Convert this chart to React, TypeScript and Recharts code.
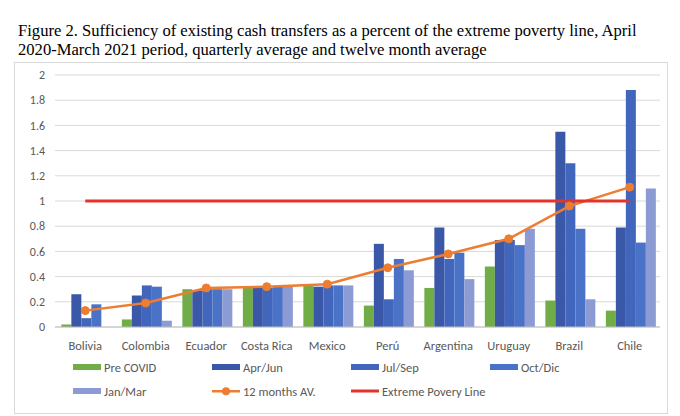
import React from 'react';
import { ComposedChart, Bar, Line, XAxis, YAxis, CartesianGrid, Legend } from 'recharts';

const countries = ['Bolivia', 'Colombia', 'Ecuador', 'Costa Rica', 'Mexico', 'Perú', 'Argentina', 'Uruguay', 'Brazil', 'Chile'];
const preCovid = [0.02, 0.06, 0.30, 0.31, 0.33, 0.17, 0.31, 0.48, 0.21, 0.13];
const aprJun = [0.26, 0.25, 0.29, 0.31, 0.32, 0.66, 0.79, 0.69, 1.55, 0.79];
const julSep = [0.07, 0.33, 0.30, 0.31, 0.33, 0.22, 0.54, 0.69, 1.30, 1.88];
const octDic = [0.18, 0.32, 0.30, 0.32, 0.33, 0.54, 0.59, 0.65, 0.78, 0.67];
const janMar = [0, 0.05, 0.30, 0.32, 0.33, 0.45, 0.38, 0.78, 0.22, 1.10];
const avg12 = [0.13, 0.19, 0.31, 0.32, 0.34, 0.47, 0.58, 0.70, 0.96, 1.11];
const povertyLine = [1, 1, 1, 1, 1, 1, 1, 1, 1, 1];
const yTicks = [0, 0.2, 0.4, 0.6, 0.8, 1, 1.2, 1.4, 1.6, 1.8, 2];

const data = countries.map((c, i) => ({
  country: c,
  pre: preCovid[i],
  apr: aprJun[i],
  jul: julSep[i],
  oct: octDic[i],
  jan: janMar[i],
  avg: avg12[i],
  line: povertyLine[i],
}));

const COLORS = {
  pre: '#70ad47',
  apr: '#3a57a8',
  jul: '#4266bb',
  oct: '#4a73c8',
  jan: '#8c9bd4',
  avg: '#ed7d31',
  line: '#e3342c',
};

const legendItems = [
  { key: 'pre', label: 'Pre COVID', type: 'bar' },
  { key: 'apr', label: 'Apr/Jun', type: 'bar' },
  { key: 'jul', label: 'Jul/Sep', type: 'bar' },
  { key: 'oct', label: 'Oct/Dic', type: 'bar' },
  { key: 'jan', label: 'Jan/Mar', type: 'bar' },
  { key: 'avg', label: '12 months AV.', type: 'dotline' },
  { key: 'line', label: 'Extreme Povery Line', type: 'line' },
];

const fontFam = 'Carlito, Calibri, "Open Sans", "Noto Sans", sans-serif';

const LegendContent = () => (
  <div style={{ height: 50, position: 'relative', fontFamily: fontFam, fontSize: 12.5, color: '#595959' }}>
    {legendItems.map((it, i) => {
      const col = i % 4;
      const row = Math.floor(i / 4);
      const color = (COLORS as any)[it.key];
      return (
        <div
          key={it.key}
          style={{
            position: 'absolute',
            left: 59 + col * 139,
            top: row * 24,
            height: 20,
            display: 'flex',
            alignItems: 'center',
            whiteSpace: 'nowrap',
          }}
        >
          <svg width={29} height={10} style={{ marginRight: 2 }}>
            {it.type === 'bar' && <rect x={0} y={2} width={28} height={6} fill={color} />}
            {it.type === 'line' && <rect x={0} y={3.5} width={28} height={3} fill={color} />}
            {it.type === 'dotline' && (
              <g>
                <rect x={0} y={4} width={28} height={2.5} fill={color} />
                <circle cx={14} cy={5.2} r={4} fill={color} />
              </g>
            )}
          </svg>
          <span>{it.label}</span>
        </div>
      );
    })}
  </div>
);

export default function App() {
  return (
    <div style={{ position: 'absolute', left: 0, top: 0, width: 680, height: 416, background: '#fff', overflow: 'hidden' }}>
      <div
        style={{
          position: 'absolute',
          left: 18,
          top: 21,
          width: 662,
          fontFamily: '"Liberation Serif", "Times New Roman", serif',
          fontSize: 16.6,
          lineHeight: '19px',
          color: '#000',
          whiteSpace: 'nowrap',
        }}
      >
        Figure 2. Sufficiency of existing cash transfers as a percent of the extreme poverty line, April
        <br />
        2020-March 2021 period, quarterly average and twelve month average
      </div>
      <div
        style={{
          position: 'absolute',
          left: 14,
          top: 62,
          width: 654,
          height: 352,
          border: '1px solid #d9d9d9',
          boxSizing: 'border-box',
        }}
      />
      <div style={{ position: 'absolute', left: 14, top: 62 }}>
        <ComposedChart
          width={654}
          height={352}
          data={data}
          margin={{ top: 13, right: 8, bottom: 7, left: 0 }}
          barCategoryGap="10.5%"
          barGap={0}
        >
          <CartesianGrid vertical={false} stroke="#d9d9d9" strokeWidth={1} />
          <XAxis
            dataKey="country"
            axisLine={{ stroke: '#bfbfbf' }}
            tickLine={false}
            height={30}
            tickMargin={8}
            tick={{ fill: '#595959', fontSize: 12.5, fontFamily: fontFam }}
            interval={0}
          />
          <YAxis
            width={41}
            domain={[0, 2]}
            ticks={yTicks}
            axisLine={false}
            tickLine={false}
            tickMargin={4}
            tick={{ fill: '#595959', fontSize: 12, fontFamily: fontFam }}
          />
          <Legend verticalAlign="bottom" align="left" content={<LegendContent />} wrapperStyle={{ left: 0, width: 654 }} />
          <Bar dataKey="pre" name="Pre COVID" fill={COLORS.pre} isAnimationActive={false} />
          <Bar dataKey="apr" name="Apr/Jun" fill={COLORS.apr} isAnimationActive={false} />
          <Bar dataKey="jul" name="Jul/Sep" fill={COLORS.jul} isAnimationActive={false} />
          <Bar dataKey="oct" name="Oct/Dic" fill={COLORS.oct} isAnimationActive={false} />
          <Bar dataKey="jan" name="Jan/Mar" fill={COLORS.jan} isAnimationActive={false} />
          <Line
            dataKey="avg"
            name="12 months AV."
            stroke={COLORS.avg}
            strokeWidth={2.5}
            dot={{ r: 4, fill: COLORS.avg, stroke: COLORS.avg, strokeWidth: 1 }}
            activeDot={false}
            isAnimationActive={false}
          />
          <Line
            dataKey="line"
            name="Extreme Povery Line"
            stroke={COLORS.line}
            strokeWidth={3}
            dot={false}
            activeDot={false}
            isAnimationActive={false}
          />
        </ComposedChart>
      </div>
    </div>
  );
}
